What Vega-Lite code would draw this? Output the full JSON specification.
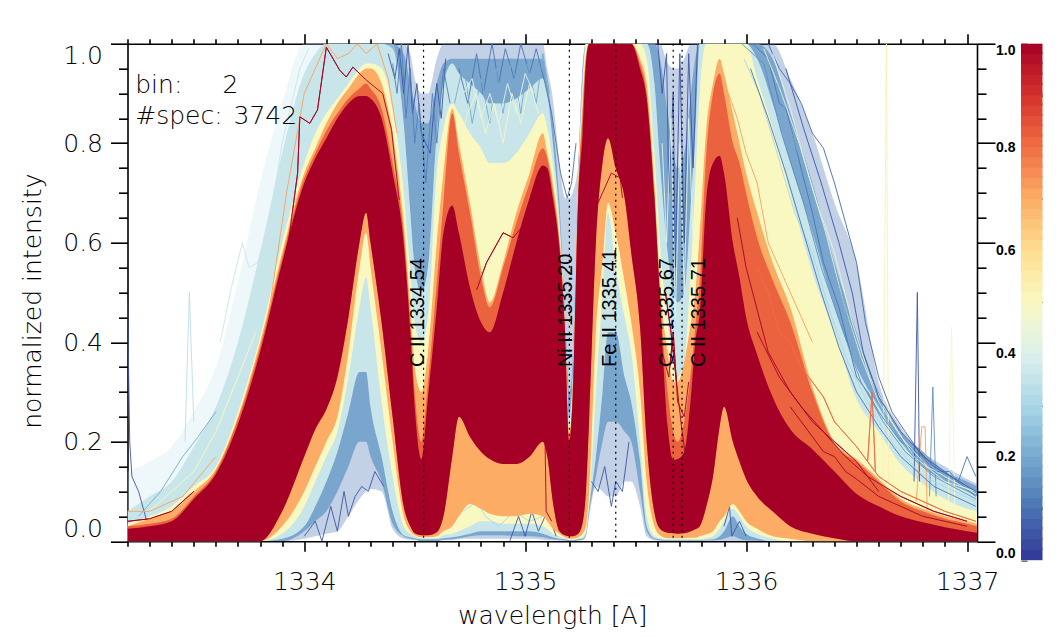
{"$schema":"https://vega.github.io/schema/vega-lite/v6.json","width":849.5,"height":497.5,"autosize":{"type":"none"},"padding":{"left":127.5,"top":43.7,"right":85,"bottom":95.8},"background":"white","config":{"view":{"stroke":null},"axis":{"grid":false,"domainColor":"black","tickColor":"black","domainWidth":1.6,"tickWidth":1.6,"labelColor":"#000","titleColor":"#000","labelFont":"DejaVu Sans","titleFont":"DejaVu Sans","labelFontWeight":200,"titleFontWeight":200,"labelFontSize":25,"titleFontSize":25,"zindex":1}},
"datasets":{
"bands":[
{"x":1333.2,"aL":0,"aH":0.03,"bL":0,"bH":0.03,"cL":0,"cH":0.06,"sH":0.14,"dL":0,"dH":0.035,"pL":0,"pH":0.03,"oH":0.03,"rL":0,"rH":0.025},
{"x":1333.3,"aL":0,"aH":0.03,"bL":0,"bH":0.03,"cL":0,"cH":0.09,"sH":0.16,"dL":0,"dH":0.05,"pL":0,"pH":0.045,"oH":0.035,"rL":0,"rH":0.03},
{"x":1333.4,"aL":0,"aH":0.04,"bL":0,"bH":0.04,"cL":0,"cH":0.12,"sH":0.19,"dL":0,"dH":0.07,"pL":0,"pH":0.06,"oH":0.045,"rL":0,"rH":0.04},
{"x":1333.5,"aL":0,"aH":0.08,"bL":0,"bH":0.08,"cL":0,"cH":0.19,"sH":0.26,"dL":0,"dH":0.11,"pL":0,"pH":0.1,"oH":0.09,"rL":0,"rH":0.085},
{"x":1333.6,"aL":0,"aH":0.12,"bL":0,"bH":0.12,"cL":0,"cH":0.27,"sH":0.35,"dL":0,"dH":0.15,"pL":0,"pH":0.145,"oH":0.14,"rL":0,"rH":0.135},
{"x":1333.7,"aL":0,"aH":0.2,"bL":0,"bH":0.2,"cL":0,"cH":0.4,"sH":0.52,"dL":0,"dH":0.26,"pL":0,"pH":0.25,"oH":0.245,"rL":0,"rH":0.235},
{"x":1333.8,"aL":0,"aH":0.3,"bL":0,"bH":0.3,"cL":0,"cH":0.58,"sH":0.72,"dL":0,"dH":0.41,"pL":0,"pH":0.4,"oH":0.39,"rL":0,"rH":0.38},
{"x":1333.9,"aL":0,"aH":0.45,"bL":0,"bH":0.45,"cL":0.005,"cH":0.78,"sH":0.88,"dL":0.015,"dH":0.6,"pL":0.03,"pH":0.58,"oH":0.57,"rL":0.06,"rH":0.56},
{"x":1334,"aL":0.005,"aH":0.6,"bL":0.02,"bH":0.6,"cL":0.03,"cH":0.94,"sH":1,"dL":0.07,"dH":0.76,"pL":0.1,"pH":0.74,"oH":0.73,"rL":0.17,"rH":0.72},
{"x":1334.05,"aL":0.01,"aH":0.7,"bL":0.04,"bH":0.7,"cL":0.07,"cH":0.98,"sH":1,"dL":0.12,"dH":0.82,"pL":0.15,"pH":0.79,"oH":0.78,"rL":0.225,"rH":0.77},
{"x":1334.1,"aL":0.015,"aH":0.75,"bL":0.06,"bH":0.75,"cL":0.12,"cH":1,"sH":1,"dL":0.17,"dH":0.86,"pL":0.2,"pH":0.84,"oH":0.825,"rL":0.265,"rH":0.81},
{"x":1334.15,"aL":0.02,"aH":0.8,"bL":0.1,"bH":0.8,"cL":0.18,"cH":1,"sH":1,"dL":0.22,"dH":0.89,"pL":0.25,"pH":0.88,"oH":0.86,"rL":0.33,"rH":0.85},
{"x":1334.2,"aL":0.05,"aH":0.85,"bL":0.15,"bH":0.85,"cL":0.26,"cH":1,"sH":1,"dL":0.33,"dH":0.92,"pL":0.38,"pH":0.91,"oH":0.89,"rL":0.45,"rH":0.88},
{"x":1334.25,"aL":0.085,"aH":0.9,"bL":0.2,"bH":0.9,"cL":0.34,"cH":1,"sH":1,"dL":0.47,"dH":0.95,"pL":0.55,"pH":0.94,"oH":0.91,"rL":0.6,"rH":0.895},
{"x":1334.28,"aL":0.1,"aH":0.92,"bL":0.2,"bH":0.92,"cL":0.34,"cH":1,"sH":1,"dL":0.53,"dH":0.96,"pL":0.62,"pH":0.95,"oH":0.92,"rL":0.66,"rH":0.895},
{"x":1334.3,"aL":0.105,"aH":0.95,"bL":0.17,"bH":0.95,"cL":0.27,"cH":1,"sH":1,"dL":0.47,"dH":0.96,"pL":0.55,"pH":0.95,"oH":0.91,"rL":0.6,"rH":0.89},
{"x":1334.35,"aL":0.1,"aH":1,"bL":0.12,"bH":1,"cL":0.17,"cH":1,"sH":1,"dL":0.28,"dH":0.95,"pL":0.38,"pH":0.92,"oH":0.87,"rL":0.44,"rH":0.85},
{"x":1334.4,"aL":0.025,"aH":1,"bL":0.035,"bH":1,"cL":0.06,"cH":0.99,"sH":1,"dL":0.13,"dH":0.87,"pL":0.2,"pH":0.82,"oH":0.76,"rL":0.25,"rH":0.74},
{"x":1334.45,"aL":0.005,"aH":1,"bL":0.01,"bH":0.98,"cL":0.012,"cH":0.84,"sH":0.84,"dL":0.03,"dH":0.7,"pL":0.05,"pH":0.64,"oH":0.62,"rL":0.07,"rH":0.6},
{"x":1334.48,"aL":0.003,"aH":0.98,"bL":0.005,"bH":0.92,"cL":0.008,"cH":0.66,"sH":0.66,"dL":0.015,"dH":0.54,"pL":0.02,"pH":0.47,"oH":0.44,"rL":0.03,"rH":0.42},
{"x":1334.5,"aL":0.002,"aH":0.93,"bL":0.004,"bH":0.88,"cL":0.006,"cH":0.55,"sH":0.55,"dL":0.01,"dH":0.44,"pL":0.012,"pH":0.35,"oH":0.3,"rL":0.016,"rH":0.27},
{"x":1334.53,"aL":0,"aH":0.9,"bL":0,"bH":0.84,"cL":0.004,"cH":0.5,"sH":0.5,"dL":0.006,"dH":0.4,"pL":0.008,"pH":0.3,"oH":0.2,"rL":0.012,"rH":0.165},
{"x":1334.56,"aL":0,"aH":0.9,"bL":0,"bH":0.84,"cL":0.004,"cH":0.55,"sH":0.55,"dL":0.006,"dH":0.45,"pL":0.008,"pH":0.38,"oH":0.32,"rL":0.012,"rH":0.29},
{"x":1334.6,"aL":0,"aH":0.97,"bL":0,"bH":0.92,"cL":0.004,"cH":0.82,"sH":0.82,"dL":0.006,"dH":0.74,"pL":0.01,"pH":0.6,"oH":0.52,"rL":0.018,"rH":0.47},
{"x":1334.63,"aL":0.002,"aH":1,"bL":0.003,"bH":0.96,"cL":0.006,"cH":0.92,"sH":0.92,"dL":0.012,"dH":0.83,"pL":0.02,"pH":0.74,"oH":0.68,"rL":0.05,"rH":0.62},
{"x":1334.67,"aL":0.002,"aH":1,"bL":0.004,"bH":0.97,"cL":0.008,"cH":0.96,"sH":0.96,"dL":0.015,"dH":0.88,"pL":0.03,"pH":0.87,"oH":0.86,"rL":0.17,"rH":0.675},
{"x":1334.7,"aL":0.004,"aH":1,"bL":0.006,"bH":0.97,"cL":0.01,"cH":0.94,"sH":0.94,"dL":0.02,"dH":0.86,"pL":0.05,"pH":0.8,"oH":0.78,"rL":0.25,"rH":0.62},
{"x":1334.75,"aL":0.005,"aH":1,"bL":0.01,"bH":0.97,"cL":0.015,"cH":0.92,"sH":0.92,"dL":0.03,"dH":0.82,"pL":0.075,"pH":0.68,"oH":0.66,"rL":0.21,"rH":0.51},
{"x":1334.8,"aL":0.005,"aH":1,"bL":0.012,"bH":0.97,"cL":0.02,"cH":0.9,"sH":0.9,"dL":0.04,"dH":0.79,"pL":0.065,"pH":0.55,"oH":0.53,"rL":0.18,"rH":0.44},
{"x":1334.84,"aL":0.005,"aH":1,"bL":0.012,"bH":0.97,"cL":0.02,"cH":0.88,"sH":0.88,"dL":0.04,"dH":0.76,"pL":0.055,"pH":0.48,"oH":0.47,"rL":0.165,"rH":0.42},
{"x":1334.9,"aL":0.005,"aH":1,"bL":0.012,"bH":0.97,"cL":0.02,"cH":0.88,"sH":0.88,"dL":0.035,"dH":0.76,"pL":0.05,"pH":0.56,"oH":0.55,"rL":0.155,"rH":0.5},
{"x":1334.96,"aL":0.005,"aH":1,"bL":0.01,"bH":0.97,"cL":0.02,"cH":0.89,"sH":0.89,"dL":0.035,"dH":0.78,"pL":0.05,"pH":0.66,"oH":0.64,"rL":0.155,"rH":0.6},
{"x":1335.02,"aL":0.005,"aH":1,"bL":0.01,"bH":0.97,"cL":0.02,"cH":0.91,"sH":0.91,"dL":0.035,"dH":0.82,"pL":0.055,"pH":0.74,"oH":0.72,"rL":0.17,"rH":0.69},
{"x":1335.08,"aL":0.003,"aH":1,"bL":0.008,"bH":0.97,"cL":0.015,"cH":0.93,"sH":0.93,"dL":0.03,"dH":0.86,"pL":0.05,"pH":0.82,"oH":0.79,"rL":0.2,"rH":0.755},
{"x":1335.1,"aL":0.002,"aH":0.95,"bL":0.006,"bH":0.92,"cL":0.012,"cH":0.9,"sH":0.9,"dL":0.025,"dH":0.83,"pL":0.04,"pH":0.78,"oH":0.77,"rL":0.17,"rH":0.75},
{"x":1335.125,"aL":0.002,"aH":0.89,"bL":0.004,"bH":0.84,"cL":0.008,"cH":0.8,"sH":0.8,"dL":0.015,"dH":0.76,"pL":0.025,"pH":0.72,"oH":0.705,"rL":0.08,"rH":0.69},
{"x":1335.155,"aL":0.001,"aH":0.76,"bL":0.003,"bH":0.68,"cL":0.005,"cH":0.65,"sH":0.65,"dL":0.01,"dH":0.63,"pL":0.015,"pH":0.61,"oH":0.6,"rL":0.02,"rH":0.59},
{"x":1335.18,"aL":0.001,"aH":0.69,"bL":0.002,"bH":0.46,"cL":0.004,"cH":0.45,"sH":0.45,"dL":0.006,"dH":0.44,"pL":0.008,"pH":0.44,"oH":0.43,"rL":0.012,"rH":0.425},
{"x":1335.2,"aL":0,"aH":0.69,"bL":0,"bH":0.3,"cL":0.002,"cH":0.25,"sH":0.25,"dL":0.003,"dH":0.23,"pL":0.005,"pH":0.215,"oH":0.21,"rL":0.01,"rH":0.2},
{"x":1335.215,"aL":0,"aH":0.7,"bL":0,"bH":0.36,"cL":0.002,"cH":0.33,"sH":0.33,"dL":0.003,"dH":0.31,"pL":0.005,"pH":0.3,"oH":0.295,"rL":0.01,"rH":0.29},
{"x":1335.24,"aL":0.001,"aH":0.76,"bL":0.002,"bH":0.74,"cL":0.004,"cH":0.73,"sH":0.73,"dL":0.006,"dH":0.72,"pL":0.008,"pH":0.71,"oH":0.7,"rL":0.015,"rH":0.69},
{"x":1335.26,"aL":0.002,"aH":0.96,"bL":0.003,"bH":0.95,"cL":0.005,"cH":0.93,"sH":0.93,"dL":0.008,"dH":0.9,"pL":0.015,"pH":0.88,"oH":0.86,"rL":0.037,"rH":0.82},
{"x":1335.275,"aL":0.01,"aH":1,"bL":0.012,"bH":1,"cL":0.015,"cH":1,"sH":1,"dL":0.02,"dH":1,"pL":0.03,"pH":0.98,"oH":0.97,"rL":0.1,"rH":0.96},
{"x":1335.29,"aL":0.05,"aH":1,"bL":0.06,"bH":1,"cL":0.07,"cH":1,"sH":1,"dL":0.08,"dH":1,"pL":0.1,"pH":1,"oH":1,"rL":0.25,"rH":1},
{"x":1335.32,"aL":0.11,"aH":1,"bL":0.13,"bH":1,"cL":0.17,"cH":1,"sH":1,"dL":0.3,"dH":1,"pL":0.42,"pH":1,"oH":1,"rL":0.6,"rH":1},
{"x":1335.35,"aL":0.1,"aH":1,"bL":0.2,"bH":1,"cL":0.3,"cH":1,"sH":1,"dL":0.5,"dH":1,"pL":0.56,"pH":1,"oH":1,"rL":0.76,"rH":1},
{"x":1335.375,"aL":0.09,"aH":1,"bL":0.24,"bH":1,"cL":0.42,"cH":1,"sH":1,"dL":0.66,"dH":1,"pL":0.68,"pH":1,"oH":1,"rL":0.81,"rH":1},
{"x":1335.41,"aL":0.09,"aH":1,"bL":0.24,"bH":1,"cL":0.42,"cH":1,"sH":1,"dL":0.55,"dH":1,"pL":0.62,"pH":1,"oH":1,"rL":0.75,"rH":1},
{"x":1335.45,"aL":0.12,"aH":1,"bL":0.22,"bH":1,"cL":0.33,"cH":1,"sH":1,"dL":0.45,"dH":1,"pL":0.52,"pH":1,"oH":1,"rL":0.69,"rH":1},
{"x":1335.48,"aL":0.12,"aH":1,"bL":0.2,"bH":1,"cL":0.28,"cH":1,"sH":1,"dL":0.38,"dH":1,"pL":0.44,"pH":1,"oH":1,"rL":0.58,"rH":1},
{"x":1335.52,"aL":0.07,"aH":1,"bL":0.1,"bH":1,"cL":0.16,"cH":1,"sH":1,"dL":0.2,"dH":1,"pL":0.3,"pH":0.97,"oH":0.96,"rL":0.43,"rH":0.95},
{"x":1335.55,"aL":0.01,"aH":1,"bL":0.02,"bH":1,"cL":0.03,"cH":1,"sH":1,"dL":0.05,"dH":0.97,"pL":0.12,"pH":0.92,"oH":0.9,"rL":0.2,"rH":0.89},
{"x":1335.585,"aL":0.002,"aH":1,"bL":0.004,"bH":1,"cL":0.006,"cH":0.92,"sH":0.92,"dL":0.01,"dH":0.78,"pL":0.03,"pH":0.72,"oH":0.7,"rL":0.057,"rH":0.69},
{"x":1335.61,"aL":0.001,"aH":1,"bL":0.002,"bH":0.97,"cL":0.004,"cH":0.76,"sH":0.76,"dL":0.006,"dH":0.6,"pL":0.012,"pH":0.52,"oH":0.5,"rL":0.025,"rH":0.49},
{"x":1335.645,"aL":0,"aH":0.96,"bL":0.001,"bH":0.86,"cL":0.002,"cH":0.58,"sH":0.58,"dL":0.004,"dH":0.44,"pL":0.006,"pH":0.38,"oH":0.3,"rL":0.017,"rH":0.23},
{"x":1335.67,"aL":0,"aH":0.95,"bL":0.001,"bH":0.78,"cL":0.002,"cH":0.5,"sH":0.5,"dL":0.004,"dH":0.36,"pL":0.006,"pH":0.32,"oH":0.22,"rL":0.016,"rH":0.163},
{"x":1335.69,"aL":0,"aH":0.95,"bL":0.001,"bH":0.75,"cL":0.002,"cH":0.48,"sH":0.48,"dL":0.004,"dH":0.33,"pL":0.006,"pH":0.32,"oH":0.2,"rL":0.015,"rH":0.165},
{"x":1335.72,"aL":0,"aH":0.97,"bL":0.001,"bH":0.78,"cL":0.002,"cH":0.5,"sH":0.5,"dL":0.004,"dH":0.36,"pL":0.006,"pH":0.36,"oH":0.24,"rL":0.016,"rH":0.18},
{"x":1335.75,"aL":0,"aH":1,"bL":0.001,"bH":0.9,"cL":0.002,"cH":0.68,"sH":0.68,"dL":0.004,"dH":0.55,"pL":0.007,"pH":0.44,"oH":0.34,"rL":0.02,"rH":0.29},
{"x":1335.77,"aL":0,"aH":1,"bL":0.001,"bH":0.97,"cL":0.002,"cH":0.82,"sH":0.82,"dL":0.004,"dH":0.72,"pL":0.007,"pH":0.5,"oH":0.43,"rL":0.024,"rH":0.4},
{"x":1335.79,"aL":0,"aH":1,"bL":0.001,"bH":1,"cL":0.002,"cH":1,"sH":1,"dL":0.004,"dH":0.9,"pL":0.01,"pH":0.62,"oH":0.52,"rL":0.03,"rH":0.46},
{"x":1335.82,"aL":0,"aH":1,"bL":0.002,"bH":1,"cL":0.003,"cH":1,"sH":1,"dL":0.006,"dH":1,"pL":0.014,"pH":0.83,"oH":0.78,"rL":0.07,"rH":0.69},
{"x":1335.85,"aL":0,"aH":1,"bL":0.002,"bH":1,"cL":0.004,"cH":1,"sH":1,"dL":0.01,"dH":1,"pL":0.02,"pH":0.92,"oH":0.9,"rL":0.13,"rH":0.76},
{"x":1335.88,"aL":0,"aH":1,"bL":0.003,"bH":1,"cL":0.01,"cH":1,"sH":1,"dL":0.025,"dH":1,"pL":0.04,"pH":0.97,"oH":0.94,"rL":0.23,"rH":0.775},
{"x":1335.9,"aL":0,"aH":1,"bL":0.005,"bH":1,"cL":0.02,"cH":1,"sH":1,"dL":0.04,"dH":1,"pL":0.05,"pH":0.94,"oH":0.9,"rL":0.27,"rH":0.74},
{"x":1335.94,"aL":0,"aH":1,"bL":0.01,"bH":1,"cL":0.05,"cH":1,"sH":1,"dL":0.065,"dH":1,"pL":0.075,"pH":0.86,"oH":0.8,"rL":0.2,"rH":0.6},
{"x":1335.97,"aL":0,"aH":1,"bL":0.005,"bH":1,"cL":0.03,"cH":1,"sH":1,"dL":0.05,"dH":1,"pL":0.06,"pH":0.8,"oH":0.76,"rL":0.16,"rH":0.53},
{"x":1336,"aL":0,"aH":1,"bL":0.002,"bH":1,"cL":0.015,"cH":1,"sH":1,"dL":0.03,"dH":1,"pL":0.04,"pH":0.74,"oH":0.7,"rL":0.125,"rH":0.45},
{"x":1336.05,"aL":0,"aH":1,"bL":0.001,"bH":1,"cL":0.006,"cH":0.97,"sH":0.97,"dL":0.015,"dH":0.93,"pL":0.025,"pH":0.66,"oH":0.61,"rL":0.09,"rH":0.375},
{"x":1336.12,"aL":0,"aH":1,"bL":0,"bH":0.97,"cL":0,"cH":0.88,"sH":0.88,"dL":0.005,"dH":0.83,"pL":0.01,"pH":0.56,"oH":0.525,"rL":0.06,"rH":0.29},
{"x":1336.2,"aL":0,"aH":0.93,"bL":0,"bH":0.86,"cL":0,"cH":0.76,"sH":0.76,"dL":0,"dH":0.7,"pL":0.005,"pH":0.47,"oH":0.44,"rL":0.03,"rH":0.225},
{"x":1336.3,"aL":0,"aH":0.82,"bL":0,"bH":0.72,"cL":0,"cH":0.62,"sH":0.62,"dL":0,"dH":0.54,"pL":0,"pH":0.31,"oH":0.3,"rL":0.015,"rH":0.185},
{"x":1336.4,"aL":0,"aH":0.68,"bL":0,"bH":0.56,"cL":0,"cH":0.47,"sH":0.47,"dL":0,"dH":0.42,"pL":0,"pH":0.2,"oH":0.195,"rL":0.006,"rH":0.14},
{"x":1336.5,"aL":0,"aH":0.56,"bL":0,"bH":0.42,"cL":0,"cH":0.35,"sH":0.35,"dL":0,"dH":0.285,"pL":0,"pH":0.165,"oH":0.16,"rL":0,"rH":0.095},
{"x":1336.6,"aL":0,"aH":0.32,"bL":0,"bH":0.3,"cL":0,"cH":0.27,"sH":0.27,"dL":0,"dH":0.22,"pL":0,"pH":0.125,"oH":0.12,"rL":0,"rH":0.07},
{"x":1336.7,"aL":0,"aH":0.23,"bL":0,"bH":0.22,"cL":0,"cH":0.2,"sH":0.2,"dL":0,"dH":0.155,"pL":0,"pH":0.085,"oH":0.08,"rL":0,"rH":0.05},
{"x":1336.8,"aL":0,"aH":0.18,"bL":0,"bH":0.18,"cL":0,"cH":0.15,"sH":0.15,"dL":0,"dH":0.115,"pL":0,"pH":0.065,"oH":0.06,"rL":0,"rH":0.038},
{"x":1336.9,"aL":0,"aH":0.15,"bL":0,"bH":0.14,"cL":0,"cH":0.12,"sH":0.12,"dL":0,"dH":0.085,"pL":0,"pH":0.05,"oH":0.045,"rL":0,"rH":0.028},
{"x":1337,"aL":0,"aH":0.125,"bL":0,"bH":0.12,"cL":0,"cH":0.1,"sH":0.1,"dL":0,"dH":0.065,"pL":0,"pH":0.04,"oH":0.035,"rL":0,"rH":0.02},
{"x":1337.045,"aL":0,"aH":0.115,"bL":0,"bH":0.11,"cL":0,"cH":0.09,"sH":0.09,"dL":0,"dH":0.06,"pL":0,"pH":0.035,"oH":0.03,"rL":0,"rH":0.017}
],
"lines":[
{"i":1,"v":1,"x":1333.91,"y":0.54},{"i":1,"v":1,"x":1333.97,"y":0.74},{"i":1,"v":1,"x":1333.98,"y":0.853},{"i":1,"v":1,"x":1334.025,"y":0.84},{"i":1,"v":1,"x":1334.06,"y":0.867},{"i":1,"v":1,"x":1334.1,"y":0.993},{"i":1,"v":1,"x":1334.16,"y":0.947},{"i":1,"v":1,"x":1334.19,"y":0.933},{"i":1,"v":1,"x":1334.22,"y":0.953},{"i":1,"v":1,"x":1334.28,"y":0.927},{"i":1,"v":1,"x":1334.355,"y":0.9},{"i":1,"v":1,"x":1334.395,"y":0.827},{"i":1,"v":1,"x":1334.43,"y":0.686},
{"i":2,"v":1,"x":1334.78,"y":0.505},{"i":2,"v":1,"x":1334.825,"y":0.56},{"i":2,"v":1,"x":1334.9,"y":0.62},{"i":2,"v":1,"x":1334.945,"y":0.61},{"i":2,"v":1,"x":1335.02,"y":0.65},{"i":2,"v":1,"x":1335.06,"y":0.72},
{"i":3,"v":1,"x":1335.33,"y":0.68},{"i":3,"v":1,"x":1335.39,"y":0.74},{"i":3,"v":1,"x":1335.43,"y":0.73},{"i":3,"v":1,"x":1335.44,"y":0.69},
{"i":4,"v":1,"x":1335.62,"y":0.38},{"i":4,"v":1,"x":1335.65,"y":0.33},{"i":4,"v":1,"x":1335.67,"y":0.42},{"i":4,"v":1,"x":1335.69,"y":0.28},{"i":4,"v":1,"x":1335.72,"y":0.25},{"i":4,"v":1,"x":1335.74,"y":0.32},
{"i":5,"v":1,"x":1335.635,"y":0.5},{"i":5,"v":1,"x":1335.66,"y":0.42},{"i":5,"v":1,"x":1335.69,"y":0.3},{"i":5,"v":1,"x":1335.71,"y":0.22},{"i":5,"v":1,"x":1335.73,"y":0.16},
{"i":6,"v":1,"x":1336.2,"y":0.27},{"i":6,"v":1,"x":1336.3,"y":0.21},{"i":6,"v":1,"x":1336.35,"y":0.18},{"i":6,"v":1,"x":1336.4,"y":0.17},{"i":6,"v":1,"x":1336.45,"y":0.14},{"i":6,"v":1,"x":1336.5,"y":0.125},{"i":6,"v":1,"x":1336.6,"y":0.09},{"i":6,"v":1,"x":1336.7,"y":0.07},{"i":6,"v":1,"x":1336.8,"y":0.05},{"i":6,"v":1,"x":1336.9,"y":0.04},{"i":6,"v":1,"x":1337,"y":0.03},
{"i":7,"v":1,"x":1335.96,"y":0.65},{"i":7,"v":1,"x":1336,"y":0.55},{"i":7,"v":1,"x":1336.1,"y":0.38},{"i":7,"v":1,"x":1336.2,"y":0.3},{"i":7,"v":1,"x":1336.3,"y":0.24},{"i":7,"v":1,"x":1336.4,"y":0.2},{"i":7,"v":1,"x":1336.5,"y":0.16},{"i":7,"v":1,"x":1336.6,"y":0.1},
{"i":8,"v":0.8,"x":1336.05,"y":0.55},{"i":8,"v":0.8,"x":1336.1,"y":0.5},{"i":8,"v":0.8,"x":1336.15,"y":0.42},{"i":8,"v":0.8,"x":1336.2,"y":0.4},{"i":8,"v":0.8,"x":1336.25,"y":0.35},{"i":8,"v":0.8,"x":1336.3,"y":0.32},{"i":8,"v":0.8,"x":1336.35,"y":0.29},{"i":8,"v":0.8,"x":1336.4,"y":0.24},{"i":8,"v":0.8,"x":1336.5,"y":0.19},{"i":8,"v":0.8,"x":1336.6,"y":0.13},{"i":8,"v":0.8,"x":1336.7,"y":0.1},{"i":8,"v":0.8,"x":1336.8,"y":0.08},{"i":8,"v":0.8,"x":1336.9,"y":0.06},{"i":8,"v":0.8,"x":1337.04,"y":0.04},
{"i":9,"v":0.72,"x":1335.92,"y":0.9},{"i":9,"v":0.72,"x":1335.96,"y":0.85},{"i":9,"v":0.72,"x":1336,"y":0.78},{"i":9,"v":0.72,"x":1336.05,"y":0.72},{"i":9,"v":0.72,"x":1336.1,"y":0.6},{"i":9,"v":0.72,"x":1336.18,"y":0.52},{"i":9,"v":0.72,"x":1336.25,"y":0.45},{"i":9,"v":0.72,"x":1336.3,"y":0.4},
{"i":10,"v":0.8,"x":1336.55,"y":0.16},{"i":10,"v":0.8,"x":1336.57,"y":0.3},{"i":10,"v":0.8,"x":1336.585,"y":0.14},
{"i":11,"v":0.72,"x":1336.77,"y":0.08},{"i":11,"v":0.72,"x":1336.795,"y":0.23},{"i":11,"v":0.72,"x":1336.81,"y":0.23},{"i":11,"v":0.72,"x":1336.82,"y":0.06},
{"i":12,"v":0.05,"x":1336.76,"y":0.12},{"i":12,"v":0.05,"x":1336.775,"y":0.5},{"i":12,"v":0.05,"x":1336.785,"y":0.12},
{"i":13,"v":0.15,"x":1336.83,"y":0.09},{"i":13,"v":0.15,"x":1336.845,"y":0.31},{"i":13,"v":0.15,"x":1336.86,"y":0.09},
{"i":14,"v":0.53,"x":1336.62,"y":0.1},{"i":14,"v":0.53,"x":1336.635,"y":1},{"i":14,"v":0.53,"x":1336.645,"y":0.1},
{"i":15,"v":0.48,"x":1336.915,"y":0.05},{"i":15,"v":0.48,"x":1336.93,"y":0.43},{"i":15,"v":0.48,"x":1336.945,"y":0.05},
{"i":17,"v":0.05,"x":1333.2,"y":0.48},{"i":17,"v":0.05,"x":1333.21,"y":0.2},{"i":17,"v":0.05,"x":1333.22,"y":0.13},{"i":17,"v":0.05,"x":1333.25,"y":0.1},{"i":17,"v":0.05,"x":1333.3,"y":0.02},
{"i":18,"v":0.33,"x":1333.46,"y":0.2},{"i":18,"v":0.33,"x":1333.48,"y":0.5},{"i":18,"v":0.33,"x":1333.5,"y":0.24},
{"i":19,"v":0.36,"x":1333.62,"y":0.4},{"i":19,"v":0.36,"x":1333.67,"y":0.51},{"i":19,"v":0.36,"x":1333.72,"y":0.6},{"i":19,"v":0.36,"x":1333.75,"y":0.55},{"i":19,"v":0.36,"x":1333.79,"y":0.56},{"i":19,"v":0.36,"x":1333.85,"y":0.66},{"i":19,"v":0.36,"x":1333.9,"y":0.8},{"i":19,"v":0.36,"x":1333.98,"y":0.95},{"i":19,"v":0.36,"x":1334.02,"y":0.99},
{"i":20,"v":0.08,"x":1336.1,"y":1},{"i":20,"v":0.08,"x":1336.15,"y":0.95},{"i":20,"v":0.08,"x":1336.2,"y":0.92},{"i":20,"v":0.08,"x":1336.25,"y":0.88},{"i":20,"v":0.08,"x":1336.3,"y":0.82},{"i":20,"v":0.08,"x":1336.35,"y":0.79},{"i":20,"v":0.08,"x":1336.4,"y":0.72},{"i":20,"v":0.08,"x":1336.45,"y":0.64},{"i":20,"v":0.08,"x":1336.5,"y":0.56},{"i":20,"v":0.08,"x":1336.54,"y":0.44},{"i":20,"v":0.08,"x":1336.6,"y":0.33},{"i":20,"v":0.08,"x":1336.66,"y":0.26},{"i":20,"v":0.08,"x":1336.72,"y":0.22},{"i":20,"v":0.08,"x":1336.8,"y":0.17},{"i":20,"v":0.08,"x":1336.9,"y":0.14},{"i":20,"v":0.08,"x":1337.04,"y":0.09},
{"i":21,"v":0.1,"x":1336.03,"y":1},{"i":21,"v":0.1,"x":1336.1,"y":0.97},{"i":21,"v":0.1,"x":1336.15,"y":0.88},{"i":21,"v":0.1,"x":1336.18,"y":0.87},{"i":21,"v":0.1,"x":1336.22,"y":0.8},{"i":21,"v":0.1,"x":1336.3,"y":0.66},{"i":21,"v":0.1,"x":1336.35,"y":0.56},{"i":21,"v":0.1,"x":1336.42,"y":0.47},{"i":21,"v":0.1,"x":1336.5,"y":0.33},{"i":21,"v":0.1,"x":1336.55,"y":0.3},{"i":21,"v":0.1,"x":1336.6,"y":0.26},{"i":21,"v":0.1,"x":1336.7,"y":0.2},{"i":21,"v":0.1,"x":1336.8,"y":0.17},
{"i":22,"v":0.1,"x":1336.8,"y":0.17},{"i":22,"v":0.1,"x":1336.85,"y":0.14},{"i":22,"v":0.1,"x":1336.92,"y":0.14},{"i":22,"v":0.1,"x":1336.96,"y":0.12},{"i":22,"v":0.1,"x":1337,"y":0.17},{"i":22,"v":0.1,"x":1337.04,"y":0.13},
{"i":23,"v":0.05,"x":1334.38,"y":0.98},{"i":23,"v":0.05,"x":1334.41,"y":0.93},{"i":23,"v":0.05,"x":1334.43,"y":0.99},{"i":23,"v":0.05,"x":1334.45,"y":0.9},{"i":23,"v":0.05,"x":1334.47,"y":1},{"i":23,"v":0.05,"x":1334.49,"y":0.86},{"i":23,"v":0.05,"x":1334.51,"y":0.92},{"i":23,"v":0.05,"x":1334.53,"y":0.82},{"i":23,"v":0.05,"x":1334.55,"y":0.8},{"i":23,"v":0.05,"x":1334.57,"y":0.78},{"i":23,"v":0.05,"x":1334.585,"y":0.86},{"i":23,"v":0.05,"x":1334.6,"y":0.92},{"i":23,"v":0.05,"x":1334.62,"y":0.85},{"i":23,"v":0.05,"x":1334.64,"y":0.97},
{"i":24,"v":0.12,"x":1334.4,"y":0.96},{"i":24,"v":0.12,"x":1334.42,"y":0.9},{"i":24,"v":0.12,"x":1334.44,"y":1},{"i":24,"v":0.12,"x":1334.46,"y":0.85},{"i":24,"v":0.12,"x":1334.48,"y":0.95},{"i":24,"v":0.12,"x":1334.5,"y":0.8},{"i":24,"v":0.12,"x":1334.52,"y":0.88},{"i":24,"v":0.12,"x":1334.55,"y":0.72},{"i":24,"v":0.12,"x":1334.58,"y":0.9},{"i":24,"v":0.12,"x":1334.6,"y":0.8},{"i":24,"v":0.12,"x":1334.63,"y":0.95},{"i":24,"v":0.12,"x":1334.66,"y":0.88},
{"i":25,"v":0.1,"x":1334.7,"y":0.95},{"i":25,"v":0.1,"x":1334.74,"y":0.88},{"i":25,"v":0.1,"x":1334.78,"y":0.98},{"i":25,"v":0.1,"x":1334.81,"y":0.9},{"i":25,"v":0.1,"x":1334.85,"y":1},{"i":25,"v":0.1,"x":1334.88,"y":0.92},{"i":25,"v":0.1,"x":1334.91,"y":0.99},{"i":25,"v":0.1,"x":1334.95,"y":0.93},{"i":25,"v":0.1,"x":1334.98,"y":1},{"i":25,"v":0.1,"x":1335.02,"y":0.94},{"i":25,"v":0.1,"x":1335.05,"y":0.99},{"i":25,"v":0.1,"x":1335.09,"y":0.92},{"i":25,"v":0.1,"x":1335.12,"y":0.86},{"i":25,"v":0.1,"x":1335.16,"y":0.74},{"i":25,"v":0.1,"x":1335.19,"y":0.69},{"i":25,"v":0.1,"x":1335.21,"y":0.72},{"i":25,"v":0.1,"x":1335.23,"y":0.8},
{"i":26,"v":0.2,"x":1334.68,"y":0.88},{"i":26,"v":0.2,"x":1334.72,"y":0.96},{"i":26,"v":0.2,"x":1334.76,"y":0.84},{"i":26,"v":0.2,"x":1334.8,"y":0.93},{"i":26,"v":0.2,"x":1334.84,"y":0.84},{"i":26,"v":0.2,"x":1334.87,"y":0.95},{"i":26,"v":0.2,"x":1334.9,"y":0.86},{"i":26,"v":0.2,"x":1334.94,"y":0.97},{"i":26,"v":0.2,"x":1334.98,"y":0.86},{"i":26,"v":0.2,"x":1335.01,"y":0.96},{"i":26,"v":0.2,"x":1335.05,"y":0.88},{"i":26,"v":0.2,"x":1335.08,"y":0.98},{"i":26,"v":0.2,"x":1335.11,"y":0.9},
{"i":27,"v":0.47,"x":1334.7,"y":0.8},{"i":27,"v":0.47,"x":1334.74,"y":0.86},{"i":27,"v":0.47,"x":1334.78,"y":0.9},{"i":27,"v":0.47,"x":1334.82,"y":0.82},{"i":27,"v":0.47,"x":1334.86,"y":0.88},{"i":27,"v":0.47,"x":1334.9,"y":0.8},{"i":27,"v":0.47,"x":1334.94,"y":0.9},{"i":27,"v":0.47,"x":1334.98,"y":0.84},{"i":27,"v":0.47,"x":1335.02,"y":0.92},{"i":27,"v":0.47,"x":1335.06,"y":0.86},
{"i":28,"v":0.42,"x":1334.72,"y":0.9},{"i":28,"v":0.42,"x":1334.76,"y":0.93},{"i":28,"v":0.42,"x":1334.8,"y":0.85},{"i":28,"v":0.42,"x":1334.84,"y":0.9},{"i":28,"v":0.42,"x":1334.88,"y":0.84},{"i":28,"v":0.42,"x":1334.92,"y":0.92},{"i":28,"v":0.42,"x":1334.96,"y":0.86},{"i":28,"v":0.42,"x":1335,"y":0.94},{"i":28,"v":0.42,"x":1335.04,"y":0.9},
{"i":29,"v":0.05,"x":1335.6,"y":1},{"i":29,"v":0.05,"x":1335.62,"y":0.9},{"i":29,"v":0.05,"x":1335.64,"y":0.98},{"i":29,"v":0.05,"x":1335.65,"y":0.7},{"i":29,"v":0.05,"x":1335.67,"y":0.9},{"i":29,"v":0.05,"x":1335.68,"y":0.55},{"i":29,"v":0.05,"x":1335.7,"y":0.98},{"i":29,"v":0.05,"x":1335.72,"y":0.6},{"i":29,"v":0.05,"x":1335.74,"y":0.98},{"i":29,"v":0.05,"x":1335.76,"y":0.75},{"i":29,"v":0.05,"x":1335.78,"y":1},
{"i":30,"v":0.42,"x":1335.62,"y":0.8},{"i":30,"v":0.42,"x":1335.64,"y":0.6},{"i":30,"v":0.42,"x":1335.66,"y":0.85},{"i":30,"v":0.42,"x":1335.68,"y":0.45},{"i":30,"v":0.42,"x":1335.7,"y":0.8},{"i":30,"v":0.42,"x":1335.72,"y":0.5},{"i":30,"v":0.42,"x":1335.74,"y":0.85},{"i":30,"v":0.42,"x":1335.76,"y":0.6},
{"i":31,"v":0.05,"x":1334,"y":0.01},{"i":31,"v":0.05,"x":1334.05,"y":0.04},{"i":31,"v":0.05,"x":1334.08,"y":0},{"i":31,"v":0.05,"x":1334.12,"y":0.07},{"i":31,"v":0.05,"x":1334.15,"y":0.02},{"i":31,"v":0.05,"x":1334.18,"y":0.1},{"i":31,"v":0.05,"x":1334.2,"y":0.05},{"i":31,"v":0.05,"x":1334.23,"y":0.09},{"i":31,"v":0.05,"x":1334.26,"y":0.11},{"i":31,"v":0.05,"x":1334.29,"y":0.1},{"i":31,"v":0.05,"x":1334.32,"y":0.14},{"i":31,"v":0.05,"x":1334.36,"y":0.11},
{"i":32,"v":0.05,"x":1335.3,"y":0.12},{"i":32,"v":0.05,"x":1335.33,"y":0.1},{"i":32,"v":0.05,"x":1335.36,"y":0.15},{"i":32,"v":0.05,"x":1335.39,"y":0.07},{"i":32,"v":0.05,"x":1335.41,"y":0.12},{"i":32,"v":0.05,"x":1335.44,"y":0.1},{"i":32,"v":0.05,"x":1335.47,"y":0.2},
{"i":33,"v":0.05,"x":1335.9,"y":0.03},{"i":33,"v":0.05,"x":1335.925,"y":0.07},{"i":33,"v":0.05,"x":1335.935,"y":0.01},{"i":33,"v":0.05,"x":1335.97,"y":0.04},{"i":33,"v":0.05,"x":1336,"y":0.01},
{"i":34,"v":1,"x":1335.09,"y":0.2},{"i":34,"v":1,"x":1335.095,"y":0.06},{"i":34,"v":1,"x":1335.12,"y":0.04},
{"i":35,"v":0.3,"x":1334.72,"y":0.06},{"i":35,"v":0.3,"x":1334.78,"y":0.08},{"i":35,"v":0.3,"x":1334.82,"y":0.05},{"i":35,"v":0.3,"x":1334.88,"y":0.03},{"i":35,"v":0.3,"x":1334.95,"y":0.06},{"i":35,"v":0.3,"x":1335.02,"y":0.04},{"i":35,"v":0.3,"x":1335.08,"y":0.05},
{"i":36,"v":0.05,"x":1334.93,"y":0},{"i":36,"v":0.05,"x":1334.97,"y":0.05},{"i":36,"v":0.05,"x":1335,"y":0.01},{"i":36,"v":0.05,"x":1335.03,"y":0.06},{"i":36,"v":0.05,"x":1335.06,"y":0.02},{"i":36,"v":0.05,"x":1335.1,"y":0.06},{"i":36,"v":0.05,"x":1335.14,"y":0.01},
{"i":40,"v":0.15,"x":1335.98,"y":1},{"i":40,"v":0.15,"x":1336.08,"y":0.96},{"i":40,"v":0.15,"x":1336.16,"y":0.82},{"i":40,"v":0.15,"x":1336.26,"y":0.68},{"i":40,"v":0.15,"x":1336.34,"y":0.55},{"i":40,"v":0.15,"x":1336.44,"y":0.42},{"i":40,"v":0.15,"x":1336.52,"y":0.32},{"i":40,"v":0.15,"x":1336.62,"y":0.24},{"i":40,"v":0.15,"x":1336.72,"y":0.18},{"i":40,"v":0.15,"x":1336.85,"y":0.13},{"i":40,"v":0.15,"x":1337.04,"y":0.085},
{"i":41,"v":0.3,"x":1335.99,"y":0.97},{"i":41,"v":0.3,"x":1336.06,"y":0.9},{"i":41,"v":0.3,"x":1336.14,"y":0.78},{"i":41,"v":0.3,"x":1336.22,"y":0.66},{"i":41,"v":0.3,"x":1336.3,"y":0.58},{"i":41,"v":0.3,"x":1336.38,"y":0.46},{"i":41,"v":0.3,"x":1336.46,"y":0.36},{"i":41,"v":0.3,"x":1336.56,"y":0.27},{"i":41,"v":0.3,"x":1336.66,"y":0.2},{"i":41,"v":0.3,"x":1336.8,"y":0.13},{"i":41,"v":0.3,"x":1337.04,"y":0.08},
{"i":42,"v":0.45,"x":1336.08,"y":0.99},{"i":42,"v":0.45,"x":1336.16,"y":0.9},{"i":42,"v":0.45,"x":1336.24,"y":0.8},{"i":42,"v":0.45,"x":1336.32,"y":0.68},{"i":42,"v":0.45,"x":1336.4,"y":0.58},{"i":42,"v":0.45,"x":1336.48,"y":0.44},{"i":42,"v":0.45,"x":1336.56,"y":0.33},{"i":42,"v":0.45,"x":1336.66,"y":0.24},{"i":42,"v":0.45,"x":1336.76,"y":0.17},{"i":42,"v":0.45,"x":1336.9,"y":0.12},{"i":42,"v":0.45,"x":1337.04,"y":0.1},
{"i":43,"v":0.42,"x":1336.12,"y":0.98},{"i":43,"v":0.42,"x":1336.2,"y":0.87},{"i":43,"v":0.42,"x":1336.28,"y":0.74},{"i":43,"v":0.42,"x":1336.36,"y":0.62},{"i":43,"v":0.42,"x":1336.44,"y":0.48},{"i":43,"v":0.42,"x":1336.52,"y":0.37},{"i":43,"v":0.42,"x":1336.6,"y":0.28},{"i":43,"v":0.42,"x":1336.7,"y":0.21},{"i":43,"v":0.42,"x":1336.82,"y":0.15},{"i":43,"v":0.42,"x":1337.04,"y":0.095},
{"i":44,"v":0.1,"x":1336.02,"y":0.95},{"i":44,"v":0.1,"x":1336.1,"y":0.85},{"i":44,"v":0.1,"x":1336.18,"y":0.74},{"i":44,"v":0.1,"x":1336.26,"y":0.62},{"i":44,"v":0.1,"x":1336.34,"y":0.5},{"i":44,"v":0.1,"x":1336.42,"y":0.39},{"i":44,"v":0.1,"x":1336.5,"y":0.3},{"i":44,"v":0.1,"x":1336.6,"y":0.23},{"i":44,"v":0.1,"x":1336.7,"y":0.17},{"i":44,"v":0.1,"x":1336.85,"y":0.11},{"i":44,"v":0.1,"x":1337.04,"y":0.07},
{"i":45,"v":0.2,"x":1336.14,"y":0.92},{"i":45,"v":0.2,"x":1336.22,"y":0.8},{"i":45,"v":0.2,"x":1336.3,"y":0.7},{"i":45,"v":0.2,"x":1336.38,"y":0.57},{"i":45,"v":0.2,"x":1336.46,"y":0.45},{"i":45,"v":0.2,"x":1336.54,"y":0.33},{"i":45,"v":0.2,"x":1336.64,"y":0.24},{"i":45,"v":0.2,"x":1336.76,"y":0.17},{"i":45,"v":0.2,"x":1337.04,"y":0.1},
{"i":46,"v":0.05,"x":1336.18,"y":0.95},{"i":46,"v":0.05,"x":1336.26,"y":0.83},{"i":46,"v":0.05,"x":1336.34,"y":0.72},{"i":46,"v":0.05,"x":1336.42,"y":0.6},{"i":46,"v":0.05,"x":1336.48,"y":0.5},{"i":46,"v":0.05,"x":1336.53,"y":0.38},{"i":46,"v":0.05,"x":1336.6,"y":0.29},{"i":46,"v":0.05,"x":1336.7,"y":0.22},{"i":46,"v":0.05,"x":1336.85,"y":0.15},{"i":46,"v":0.05,"x":1337.04,"y":0.1},
{"i":47,"v":0.2,"x":1333.25,"y":0.05},{"i":47,"v":0.2,"x":1333.35,"y":0.1},{"i":47,"v":0.2,"x":1333.45,"y":0.17},{"i":47,"v":0.2,"x":1333.52,"y":0.21},{"i":47,"v":0.2,"x":1333.6,"y":0.26},
{"i":48,"v":0.5,"x":1333.3,"y":0.06},{"i":48,"v":0.5,"x":1333.4,"y":0.1},{"i":48,"v":0.5,"x":1333.5,"y":0.14},{"i":48,"v":0.5,"x":1333.6,"y":0.22},{"i":48,"v":0.5,"x":1333.7,"y":0.33},{"i":48,"v":0.5,"x":1333.78,"y":0.42},
{"i":49,"v":0.72,"x":1333.82,"y":0.4},{"i":49,"v":0.72,"x":1333.92,"y":0.7},{"i":49,"v":0.72,"x":1334,"y":0.9},{"i":49,"v":0.72,"x":1334.05,"y":0.95},{"i":49,"v":0.72,"x":1334.1,"y":1},{"i":49,"v":0.72,"x":1334.15,"y":0.97},{"i":49,"v":0.72,"x":1334.2,"y":0.98},{"i":49,"v":0.72,"x":1334.24,"y":1},{"i":49,"v":0.72,"x":1334.28,"y":0.98},{"i":49,"v":0.72,"x":1334.33,"y":1},{"i":49,"v":0.72,"x":1334.38,"y":0.93},{"i":49,"v":0.72,"x":1334.42,"y":0.82},
{"i":50,"v":1,"x":1333.2,"y":0.04},{"i":50,"v":1,"x":1333.3,"y":0.045},{"i":50,"v":1,"x":1333.4,"y":0.06},{"i":50,"v":1,"x":1333.5,"y":0.1},
{"i":51,"v":0.72,"x":1333.2,"y":0.06},{"i":51,"v":0.72,"x":1333.3,"y":0.06},{"i":51,"v":0.72,"x":1333.45,"y":0.09},{"i":51,"v":0.72,"x":1333.6,"y":0.17},
{"i":52,"v":1,"x":1336.05,"y":0.42},{"i":52,"v":1,"x":1336.15,"y":0.33},{"i":52,"v":1,"x":1336.25,"y":0.27},{"i":52,"v":1,"x":1336.35,"y":0.22},{"i":52,"v":1,"x":1336.45,"y":0.17},{"i":52,"v":1,"x":1336.55,"y":0.13},{"i":52,"v":1,"x":1336.7,"y":0.09},{"i":52,"v":1,"x":1336.85,"y":0.06},{"i":52,"v":1,"x":1337,"y":0.04}
],
"rules":[{"x":1334.54},{"x":1335.2},{"x":1335.41},{"x":1335.67},{"x":1335.71}],
"ids":[{"x":1334.54,"t":"C II 1334.54"},{"x":1335.21,"t":"Ni II 1335.20"},{"x":1335.41,"t":"Fe II 1335.41"},{"x":1335.67,"t":"C II 1335.67"},{"x":1335.815,"t":"C II 1335.71"}],
"notes":[{"x":1333.235,"y":0.901,"t":"bin:"},{"x":1333.63,"y":0.901,"t":"2"},{"x":1333.235,"y":0.839,"t":"#spec:"},{"x":1333.68,"y":0.839,"t":"3742"}],
"bar":[{"a":0,"b":0.024,"c":0.01},{"a":0.02,"b":0.044,"c":0.03},{"a":0.04,"b":0.064,"c":0.05},{"a":0.06,"b":0.084,"c":0.07},{"a":0.08,"b":0.104,"c":0.09},{"a":0.1,"b":0.124,"c":0.11},{"a":0.12,"b":0.144,"c":0.13},{"a":0.14,"b":0.164,"c":0.15},{"a":0.16,"b":0.184,"c":0.17},{"a":0.18,"b":0.204,"c":0.19},{"a":0.2,"b":0.224,"c":0.21},{"a":0.22,"b":0.244,"c":0.23},{"a":0.24,"b":0.264,"c":0.25},{"a":0.26,"b":0.284,"c":0.27},{"a":0.28,"b":0.304,"c":0.29},{"a":0.3,"b":0.324,"c":0.31},{"a":0.32,"b":0.344,"c":0.33},{"a":0.34,"b":0.364,"c":0.35},{"a":0.36,"b":0.384,"c":0.37},{"a":0.38,"b":0.404,"c":0.39},{"a":0.4,"b":0.424,"c":0.41},{"a":0.42,"b":0.444,"c":0.43},{"a":0.44,"b":0.464,"c":0.45},{"a":0.46,"b":0.484,"c":0.47},{"a":0.48,"b":0.504,"c":0.49},{"a":0.5,"b":0.524,"c":0.51},{"a":0.52,"b":0.544,"c":0.53},{"a":0.54,"b":0.564,"c":0.55},{"a":0.56,"b":0.584,"c":0.57},{"a":0.58,"b":0.604,"c":0.59},{"a":0.6,"b":0.624,"c":0.61},{"a":0.62,"b":0.644,"c":0.63},{"a":0.64,"b":0.664,"c":0.65},{"a":0.66,"b":0.684,"c":0.67},{"a":0.68,"b":0.704,"c":0.69},{"a":0.7,"b":0.724,"c":0.71},{"a":0.72,"b":0.744,"c":0.73},{"a":0.74,"b":0.764,"c":0.75},{"a":0.76,"b":0.784,"c":0.77},{"a":0.78,"b":0.804,"c":0.79},{"a":0.8,"b":0.824,"c":0.81},{"a":0.82,"b":0.844,"c":0.83},{"a":0.84,"b":0.864,"c":0.85},{"a":0.86,"b":0.884,"c":0.87},{"a":0.88,"b":0.904,"c":0.89},{"a":0.9,"b":0.924,"c":0.91},{"a":0.92,"b":0.944,"c":0.93},{"a":0.94,"b":0.964,"c":0.95},{"a":0.96,"b":0.984,"c":0.97},{"a":0.98,"b":1,"c":0.99}]
},
"layer":[
{"resolve":{"axis":{"x":"independent","y":"independent"}},"layer":[
{"data":{"name":"bands"},"mark":{"type":"area","clip":true,"opacity":0.33,"interpolate":"monotone"},"encoding":{"x":{"field":"x","type":"quantitative","scale":{"domain":[1333.2,1337.045],"nice":false,"zero":false},"axis":{"orient":"bottom","values":[1334,1335,1336,1337],"format":"d","tickSize":10,"labelPadding":18,"title":"wavelength [A]","titlePadding":9,"domain":true}},"y":{"field":"aH","type":"quantitative","scale":{"domain":[0,1],"nice":false},"axis":{"orient":"left","values":[0,0.2,0.4,0.6,0.8,1],"format":".1f","tickSize":17,"labelPadding":8,"labelFlush":true,"title":"normalized intensity","titlePadding":17,"titleY":257,"domain":true}},"y2":{"field":"aL"},"color":{"datum":0.1,"type":"quantitative","scale":{"domain":[0,1],"scheme":"redyellowblue","reverse":true},"legend":null}}},
{"data":{"name":"bands"},"mark":{"type":"area","clip":true,"opacity":0.8,"interpolate":"monotone"},"encoding":{"x":{"field":"x","type":"quantitative","axis":{"orient":"bottom","values":[1333.2,1333.3,1333.4,1333.5,1333.6,1333.7,1333.8,1333.9,1334.1,1334.2,1334.3,1334.4,1334.5,1334.6,1334.7,1334.8,1334.9,1335.1,1335.2,1335.3,1335.4,1335.5,1335.6,1335.7,1335.8,1335.9,1336.1,1336.2,1336.3,1336.4,1336.5,1336.6,1336.7,1336.8,1336.9],"tickSize":5,"labels":false,"title":null,"domain":false}},"y":{"field":"bH","type":"quantitative","axis":{"orient":"left","values":[0.05,0.1,0.15,0.25,0.3,0.35,0.45,0.5,0.55,0.65,0.7,0.75,0.85,0.9,0.95],"tickSize":9,"labels":false,"title":null,"domain":false}},"y2":{"field":"bL"},"color":{"datum":0.17,"type":"quantitative","legend":null}}},
{"data":{"name":"bands"},"mark":{"type":"area","clip":true,"opacity":0.3,"interpolate":"monotone"},"encoding":{"x":{"field":"x","type":"quantitative","axis":{"orient":"top","values":[1334,1335,1336,1337],"tickSize":10,"labels":false,"title":null,"domain":true}},"y":{"field":"sH","type":"quantitative","axis":{"orient":"right","values":[0,0.2,0.4,0.6,0.8,1],"tickSize":18,"labels":false,"title":null,"domain":true}},"y2":{"field":"cL"},"color":{"datum":0.36,"type":"quantitative","legend":null}}},
{"data":{"name":"bands"},"mark":{"type":"area","clip":true,"interpolate":"monotone"},"encoding":{"x":{"field":"x","type":"quantitative","axis":{"orient":"top","values":[1333.2,1333.3,1333.4,1333.5,1333.6,1333.7,1333.8,1333.9,1334.1,1334.2,1334.3,1334.4,1334.5,1334.6,1334.7,1334.8,1334.9,1335.1,1335.2,1335.3,1335.4,1335.5,1335.6,1335.7,1335.8,1335.9,1336.1,1336.2,1336.3,1336.4,1336.5,1336.6,1336.7,1336.8,1336.9],"tickSize":5,"labels":false,"title":null,"domain":false}},"y":{"field":"cH","type":"quantitative","axis":{"orient":"right","values":[0.05,0.1,0.15,0.25,0.3,0.35,0.45,0.5,0.55,0.65,0.7,0.75,0.85,0.9,0.95],"tickSize":9,"labels":false,"title":null,"domain":false}},"y2":{"field":"cL"},"color":{"datum":0.36,"type":"quantitative","legend":null}}},
{"data":{"name":"bands"},"mark":{"type":"area","clip":true,"interpolate":"monotone"},"encoding":{"x":{"field":"x","type":"quantitative","axis":null},"y":{"field":"dH","type":"quantitative","axis":null},"y2":{"field":"dL"},"color":{"datum":0.5,"type":"quantitative","legend":null}}},
{"data":{"name":"lines"},"mark":{"type":"line","clip":true,"strokeWidth":1,"opacity":0.9},"encoding":{"x":{"field":"x","type":"quantitative","axis":null},"y":{"field":"y","type":"quantitative","axis":null},"detail":{"field":"i"},"color":{"field":"v","type":"quantitative","legend":null}}},
{"data":{"name":"bands"},"mark":{"type":"area","clip":true,"interpolate":"monotone"},"encoding":{"x":{"field":"x","type":"quantitative","axis":null},"y":{"field":"pH","type":"quantitative","axis":null},"y2":{"field":"pL"},"color":{"datum":0.7,"type":"quantitative","legend":null}}},
{"data":{"name":"bands"},"mark":{"type":"area","clip":true,"interpolate":"monotone"},"encoding":{"x":{"field":"x","type":"quantitative","axis":null},"y":{"field":"oH","type":"quantitative","axis":null},"y2":{"field":"rL"},"color":{"datum":0.82,"type":"quantitative","legend":null}}},
{"data":{"name":"bands"},"mark":{"type":"area","clip":true,"interpolate":"monotone"},"encoding":{"x":{"field":"x","type":"quantitative","axis":null},"y":{"field":"rH","type":"quantitative","axis":null},"y2":{"field":"rL"},"color":{"datum":1,"type":"quantitative","legend":null}}},
{"data":{"name":"lines"},"transform":[{"filter":"datum.v >= 0.8"}],"mark":{"type":"line","clip":true,"strokeWidth":1,"opacity":0.9},"encoding":{"x":{"field":"x","type":"quantitative","axis":null},"y":{"field":"y","type":"quantitative","axis":null},"detail":{"field":"i"},"color":{"field":"v","type":"quantitative","legend":null}}},
{"data":{"name":"rules"},"mark":{"type":"rule","color":"black","strokeWidth":1.2,"strokeDash":[2,4]},"encoding":{"x":{"field":"x","type":"quantitative","axis":null}}},
{"data":{"name":"ids"},"mark":{"type":"text","angle":270,"align":"left","baseline":"alphabetic","font":"Liberation Sans","fontSize":20,"color":"black"},"encoding":{"x":{"field":"x","type":"quantitative","axis":null},"y":{"datum":0.35,"type":"quantitative","axis":null},"text":{"field":"t"}}},
{"data":{"name":"notes"},"mark":{"type":"text","align":"left","baseline":"alphabetic","font":"DejaVu Sans","fontWeight":200,"fontSize":25,"color":"#000"},"encoding":{"x":{"field":"x","type":"quantitative","axis":null},"y":{"field":"y","type":"quantitative","axis":null},"text":{"field":"t"}}}
]},
{"resolve":{"axis":{"x":"independent","y":"independent"}},"layer":[
{"data":{"name":"bar"},"mark":{"type":"rect"},"encoding":{"x":{"datum":0,"type":"quantitative","scale":{"domain":[0,1],"range":[893.5,915]},"axis":null},"x2":{"datum":1},"y":{"field":"a","type":"quantitative","scale":{"domain":[0,1],"range":[516.5,0],"nice":false},"axis":{"orient":"left","offset":-893.5,"values":[0,0.2,0.4,0.6,0.8,1],"format":".1f","domain":false,"tickSize":-6,"tickWidth":1,"tickColor":"#333","labelFont":"Liberation Sans","labelFontWeight":"bold","labelFontSize":14,"labelPadding":12,"labelFlush":true,"title":null}},"y2":{"field":"b"},"color":{"field":"c","type":"quantitative","legend":null}}},
{"data":{"name":"bar"},"mark":{"type":"rect","opacity":0},"encoding":{"x":{"datum":0,"type":"quantitative","axis":null},"x2":{"datum":1},"y":{"field":"a","type":"quantitative","axis":{"orient":"right","offset":65.5,"values":[0.1,0.3,0.5,0.7,0.9],"domain":false,"labels":false,"tickSize":-4,"tickWidth":1,"tickColor":"#333","title":null}},"y2":{"field":"b"}}}
]}
],
"resolve":{"scale":{"x":"independent","y":"independent"},"axis":{"x":"independent","y":"independent"}}}
